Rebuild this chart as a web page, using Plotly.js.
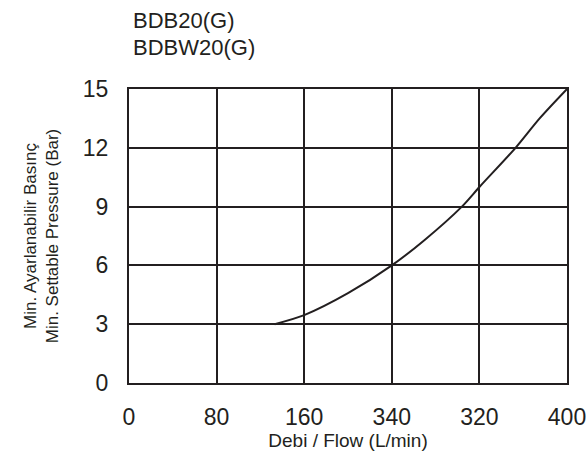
<!DOCTYPE html>
<html>
<head>
<meta charset="utf-8">
<script src="https://cdn.plot.ly/plotly-3.0.1.min.js"></script>
<style>html,body{margin:0;padding:0;background:#fff;}#chart{width:586px;height:461px;}</style>
</head>
<body>
<div id="chart"></div>
<script>
// Data
const flow = [133, 160, 200, 240, 270, 304, 320, 353, 375, 400];       // L/min
const pressure = [3, 3.46, 4.58, 6, 7.3, 9, 10, 12, 13.5, 15];          // Bar
const xTickVals = [0, 80, 160, 240, 320, 400];
const xTickText = ["0", "80", "160", "340", "320", "400"];              // as printed in the original
const yTickVals = [0, 3, 6, 9, 12, 15];
const titleLines = ["BDB20(G)", "BDBW20(G)"];

const ink = '#231f20';
const font = '"Liberation Sans", Arial, sans-serif';

const trace = {
  x: flow, y: pressure, type: 'scatter', mode: 'lines',
  line: {color: ink, width: 2, shape: 'spline', smoothing: 0.8},
  hoverinfo: 'skip', showlegend: false
};

// plot area: top 89px, bottom 383px (height 294)
const titleAnnotations = titleLines.map((t, i) => ({
  text: t, showarrow: false,
  xref: 'paper', yref: 'paper',
  x: 2/438, xanchor: 'left',
  y: (383 - (20 + 27*i)) / 294, yanchor: 'middle',
  font: {family: font, size: 22, color: ink}
}));

const layout = {
  width: 586, height: 461,
  margin: {l: 129, r: 19, t: 89, b: 78, pad: 0},
  paper_bgcolor: '#fff', plot_bgcolor: '#fff',
  annotations: titleAnnotations,
  xaxis: {
    range: [0, 400], tickvals: xTickVals, ticktext: xTickText,
    showgrid: true, gridcolor: ink, gridwidth: 2,
    showline: true, linecolor: ink, linewidth: 2, mirror: true,
    zeroline: false, ticks: '', ticklabelstandoff: 12, ticklabeloverflow: 'allow',
    tickfont: {family: font, size: 23, color: ink},
    title: {text: 'Debi / Flow (L/min)', font: {family: font, size: 19, color: ink}, standoff: 4}
  },
  yaxis: {
    range: [0, 15], tickvals: yTickVals,
    showgrid: true, gridcolor: ink, gridwidth: 2,
    showline: true, linecolor: ink, linewidth: 2, mirror: true,
    zeroline: false, ticks: '', ticklabelstandoff: 14, ticklabeloverflow: 'allow',
    tickfont: {family: font, size: 23, color: ink},
    title: {text: 'Min. Ayarlanabilir Basınç<br>Min. Settable Pressure (Bar)', font: {family: font, size: 17, color: ink}, standoff: 20}
  }
};

Plotly.newPlot('chart', [trace], layout, {displayModeBar: false, staticPlot: true});
</script>
</body>
</html>
